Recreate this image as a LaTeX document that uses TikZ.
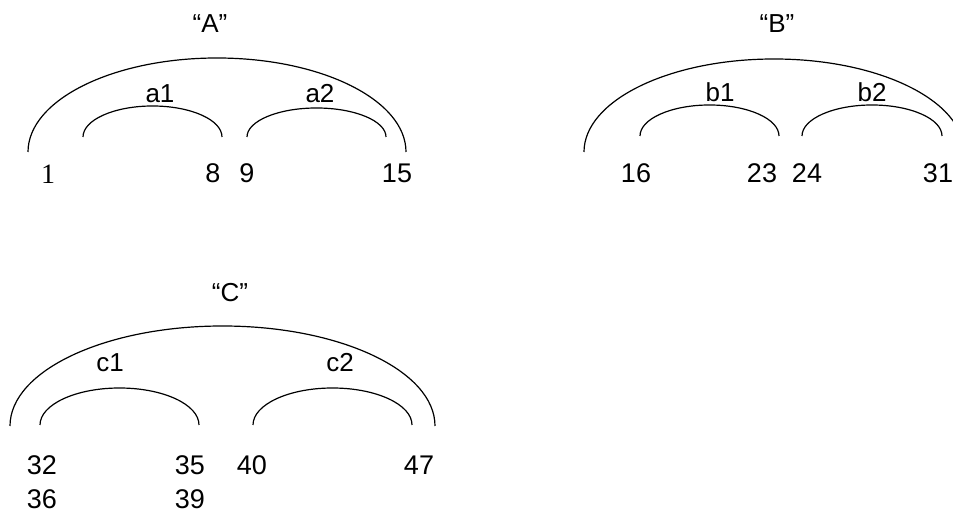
\documentclass[tikz,border=0pt]{standalone}
\usepackage{fontspec}
\setmainfont{Liberation Sans}
\newfontfamily\serifnum{Liberation Serif}
\begin{document}
\begin{tikzpicture}[x=1pt,y=1pt,
  brace/.style={line width=1.2pt, black},
  num/.style={anchor=base, inner sep=0pt, font=\fontsize{27}{27}\selectfont},
  lbl/.style={anchor=base, inner sep=0pt, font=\fontsize{26}{26}\selectfont}]
\useasboundingbox (0,0) rectangle (953,521);
\begin{scope}
\clip (0,0) rectangle (953,521);
% group A
\draw[brace] (28,369) arc[start angle=180,end angle=0,x radius=189,y radius=94];
\draw[brace] (83,384) arc[start angle=180,end angle=0,x radius=69.5,y radius=31];
\draw[brace] (247,384) arc[start angle=180,end angle=0,x radius=69.5,y radius=29];
% group B
\draw[brace] (584,369) arc[start angle=180,end angle=0,x radius=190,y radius=93];
\draw[brace] (640,385) arc[start angle=180,end angle=0,x radius=69.5,y radius=31];
\draw[brace] (802,385) arc[start angle=180,end angle=0,x radius=70,y radius=31];
% group C
\draw[brace] (10,95) arc[start angle=180,end angle=0,x radius=212.5,y radius=100];
\draw[brace] (40,96) arc[start angle=180,end angle=0,x radius=79.5,y radius=37];
\draw[brace] (253,96) arc[start angle=180,end angle=0,x radius=79.5,y radius=37];
\end{scope}
% labels A
\node[lbl] (tA) at (210,488) {“A”};
\node[lbl] (la1) at (160,418) {a1};
\node[lbl] (la2) at (320,418) {a2};
\node[num,font=\fontsize{28}{28}\serifnum] (n1) at (48,337) {1};
\node[num] (n8) at (213,338) {8};
\node[num] (n9) at (247,338) {9};
\node[num] (n15) at (397,338) {15};
% labels B
\node[lbl] (tB) at (777,488) {“B”};
\node[lbl] (lb1) at (720,419) {b1};
\node[lbl] (lb2) at (872,419) {b2};
\node[num] (n16) at (636,338) {16};
\node[num] (n23) at (762,338) {23};
\node[num] (n24) at (807,338) {24};
\node[num] (n31) at (938,338) {31};
% labels C
\node[lbl] (tC) at (230,219) {“C”};
\node[lbl] (lc1) at (110,149) {c1};
\node[lbl] (lc2) at (340,149) {c2};
\node[num] (n32) at (42,46) {32};
\node[num] (n35) at (190,46) {35};
\node[num] (n40) at (252,46) {40};
\node[num] (n47) at (419,46) {47};
\node[num] (n36) at (42,12) {36};
\node[num] (n39) at (190,12) {39};
\end{tikzpicture}
\end{document}
